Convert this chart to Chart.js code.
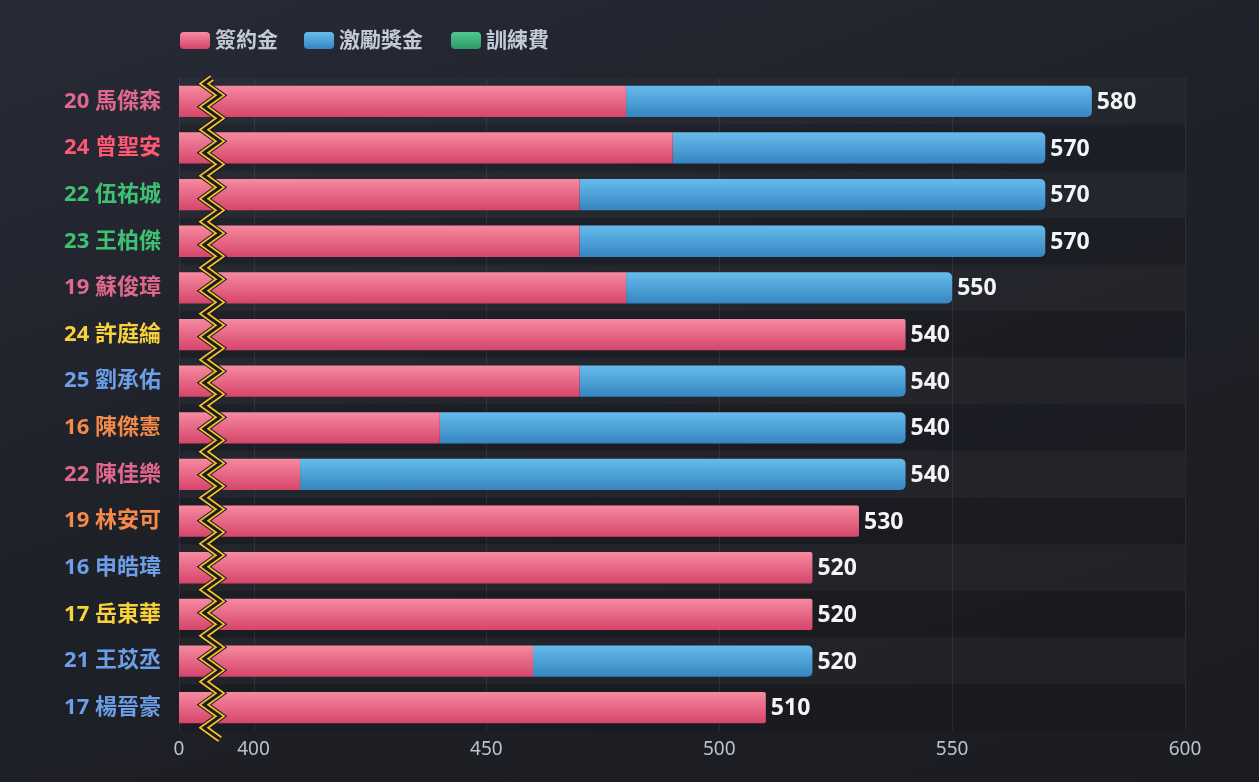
<!DOCTYPE html>
<html lang="zh-Hant">
<head>
<meta charset="utf-8">
<title>簽約金 / 激勵獎金 / 訓練費</title>
<script src="https://cdn.jsdelivr.net/npm/chart.js@4/dist/chart.umd.min.js"></script>
<style>
  html, body { margin: 0; padding: 0; }
  body {
    width: 1259px; height: 782px; overflow: hidden;
    background: linear-gradient(160deg, #272b36 0%, #1f2129 45%, #1b1c20 100%);
  }
  #wrap { position: relative; width: 1259px; height: 782px; }
</style>
</head>
<body>
<div id="wrap"><canvas id="chart"></canvas></div>
<script>
const players = ["20 馬傑森", "24 曾聖安", "22 伍祐城", "23 王柏傑", "19 蘇俊璋", "24 許庭綸", "25 劉承佑",
  "16 陳傑憲", "22 陳佳樂", "19 林安可", "16 申皓瑋", "17 岳東華", "21 王苡丞", "17 楊晉豪"];
const labelColors = ["#e0688d", "#ff5872", "#3fc172", "#3fc172", "#e0688d", "#f8d23a", "#6c9fe8",
  "#f58a48", "#e0688d", "#f58a48", "#6c9fe8", "#f8d23a", "#6c9fe8", "#6c9fe8"];
const signing = [480, 490, 470, 470, 480, 540, 470, 440, 410, 530, 520, 520, 460, 510];
const bonus = [100, 80, 100, 100, 70, 0, 70, 100, 130, 0, 0, 0, 60, 0];
const training = [0, 0, 0, 0, 0, 0, 0, 0, 0, 0, 0, 0, 0, 0];
const xTicks = [400, 450, 500, 550, 600];
const axisStart = 384; // broken axis: left edge stands for 0

const FONT = '"Noto Sans", "Noto Sans CJK TC", sans-serif';
const GRAD = {
  pink: ["#f68ba1", "#d6446a"],
  blue: ["#67bcec", "#3585c1"],
  green: ["#4fca8f", "#2c9a66"],
};

function barGradient(ctx, colors) {
  const chart = ctx.chart;
  const y = chart.scales.y;
  if (!chart.chartArea || !y || ctx.dataIndex === undefined) return colors[1];
  const c = y.getPixelForValue(ctx.dataIndex);
  const g = chart.ctx.createLinearGradient(0, c - 16, 0, c + 16);
  g.addColorStop(0, colors[0]);
  g.addColorStop(1, colors[1]);
  return g;
}

const bandPlugin = {
  id: "bands",
  beforeDatasetsDraw(chart) {
    const { ctx, chartArea: a, scales } = chart;
    ctx.save();
    ctx.fillStyle = "rgba(0,0,0,0.08)";
    ctx.fillRect(a.left, a.top, a.right - a.left, a.bottom - a.top);
    const step = (a.bottom - a.top) / players.length;
    players.forEach((p, i) => {
      if (i % 2 === 0) {
        const c = scales.y.getPixelForValue(i);
        ctx.fillStyle = "rgba(255,255,255,0.035)";
        ctx.fillRect(a.left, c - step / 2, a.right - a.left, step);
      }
    });
    // vertical grid lines over the bands
    ctx.strokeStyle = "rgba(255,255,255,0.07)";
    ctx.lineWidth = 1;
    [axisStart, ...xTicks].forEach((v) => {
      const x = Math.round(scales.x.getPixelForValue(v)) + 0.5;
      ctx.beginPath();
      ctx.moveTo(x, a.top);
      ctx.lineTo(x, a.bottom);
      ctx.stroke();
    });
    ctx.restore();
  },
};

const valuePlugin = {
  id: "values",
  afterDatasetsDraw(chart) {
    const { ctx, scales } = chart;
    ctx.save();
    ctx.font = `bold 23px ${FONT}`;
    ctx.fillStyle = "#f2f4f7";
    ctx.textBaseline = "middle";
    ctx.textAlign = "left";
    players.forEach((p, i) => {
      const total = signing[i] + bonus[i] + training[i];
      ctx.fillText(String(total), scales.x.getPixelForValue(total) + 5, scales.y.getPixelForValue(i) + 1);
    });
    ctx.restore();
  },
};

const breakPlugin = {
  id: "axisBreak",
  afterDatasetsDraw(chart) {
    const { ctx, chartArea: a } = chart;
    const xc = 212, amp = 8, half = 11.5;
    ctx.save();
    ctx.beginPath();
    let y = a.top;
    let right = false;
    ctx.moveTo(xc, y);
    y += half / 2;
    while (y < a.bottom + half) {
      ctx.lineTo(xc + (right ? amp : -amp), y);
      right = !right;
      y += half;
    }
    ctx.lineJoin = "miter";
    ctx.strokeStyle = "#17181c";
    ctx.lineWidth = 8.5;
    ctx.stroke();
    ctx.strokeStyle = "#f2c12e";
    ctx.lineWidth = 6.5;
    ctx.stroke();
    ctx.strokeStyle = "#1b1c21";
    ctx.lineWidth = 3;
    ctx.stroke();
    ctx.restore();
  },
};

const legendPlugin = {
  id: "topLegend",
  afterDraw(chart) {
    const { ctx } = chart;
    const items = [
      { text: "簽約金", colors: GRAD.pink, x: 180 },
      { text: "激勵獎金", colors: GRAD.blue, x: 304 },
      { text: "訓練費", colors: GRAD.green, x: 451 },
    ];
    ctx.save();
    ctx.font = `bold 21px ${FONT}`;
    ctx.textBaseline = "middle";
    items.forEach((it) => {
      const g = ctx.createLinearGradient(0, 32, 0, 49);
      g.addColorStop(0, it.colors[0]);
      g.addColorStop(1, it.colors[1]);
      ctx.fillStyle = g;
      ctx.beginPath();
      ctx.roundRect(it.x, 32, 30, 17, 4);
      ctx.fill();
      ctx.fillStyle = "#c4c9d7";
      ctx.fillText(it.text, it.x + 35, 41);
    });
    ctx.restore();
  },
};

new Chart(document.getElementById("chart"), {
  type: "bar",
  data: {
    labels: players,
    datasets: [
      {
        label: "簽約金",
        data: signing,
        backgroundColor: (c) => barGradient(c, GRAD.pink),
        borderRadius: 2,
        borderSkipped: "start",
      },
      {
        label: "激勵獎金",
        data: bonus,
        backgroundColor: (c) => barGradient(c, GRAD.blue),
        borderRadius: 5,
        borderSkipped: "start",
      },
      {
        label: "訓練費",
        data: training,
        backgroundColor: (c) => barGradient(c, GRAD.green),
        borderRadius: 5,
        borderSkipped: "start",
      },
    ],
  },
  options: {
    indexAxis: "y",
    responsive: true,
    maintainAspectRatio: false,
    animation: false,
    layout: { padding: { top: 78, right: 74, bottom: 0, left: 0 } },
    datasets: { bar: { barPercentage: 0.67, categoryPercentage: 1 } },
    plugins: {
      legend: { display: false },
      tooltip: { enabled: false },
    },
    scales: {
      x: {
        type: "linear",
        stacked: true,
        min: axisStart,
        max: 600,
        afterBuildTicks: (s) => {
          s.ticks = [axisStart, ...xTicks].map((v) => ({ value: v }));
        },
        afterFit: (s) => { s.height = 51; },
        ticks: {
          color: "#b9c1d2",
          font: { family: FONT, size: 19 },
          padding: 7,
          callback: (v) => (v === axisStart ? "0" : String(v)),
        },
        grid: { display: false, drawTicks: false },
        border: { display: false },
      },
      y: {
        stacked: true,
        afterFit: (s) => { s.width = 179; },
        ticks: {
          color: (c) => labelColors[c.index],
          font: { family: FONT, size: 22, weight: "bold" },
          padding: 18,
        },
        grid: { display: false, drawTicks: false },
        border: { display: false },
      },
    },
  },
  plugins: [bandPlugin, valuePlugin, breakPlugin, legendPlugin],
});
</script>
</body>
</html>
